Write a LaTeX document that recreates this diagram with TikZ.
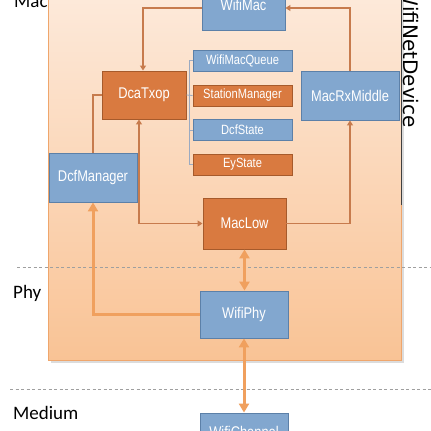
\documentclass[tikz,border=0pt]{standalone}
\usepackage{fontspec}
\setmainfont{Liberation Sans}
\newfontfamily\boxfont{Liberation Sans}[FakeStretch=0.83]
\newfontfamily\labfont{Carlito}
\newfontfamily\devfont{DejaVu Sans}
\usetikzlibrary{arrows.meta,calc}
\definecolor{bluefill}{HTML}{82A7CF}
\definecolor{blueline}{HTML}{5C80A8}
\definecolor{orfill}{HTML}{D97A40}
\definecolor{orline}{HTML}{A65A2B}
\definecolor{peachtop}{HTML}{FDEBDD}
\definecolor{peachbot}{HTML}{F9C395}
\definecolor{peachline}{HTML}{EFA66C}
\definecolor{brownarrow}{HTML}{C77B4D}
\definecolor{lightarrow}{HTML}{F0A05E}
\definecolor{treeline}{HTML}{9AAAC2}
\tikzset{
  bigbox/.style={draw, line width=0.9pt, text=white, inner sep=0pt,
    font=\boxfont\fontsize{15.5}{18}\selectfont},
  smallbox/.style={draw, line width=0.9pt, text=white, inner sep=0pt,
    minimum width=99pt, minimum height=21pt,
    font=\boxfont\fontsize{13.4}{16}\selectfont},
  bluebox/.style={fill=bluefill, draw=blueline},
  orbox/.style={fill=orfill, draw=orline},
  thinarrow/.style={draw=brownarrow, line width=1.8pt,
    -{Triangle[width=6pt,length=5pt]}},
  thinline/.style={draw=brownarrow, line width=1.8pt},
  thickarrow/.style={draw=lightarrow, line width=3pt,
    -{Triangle[width=10pt,length=9pt]}},
  treestyle/.style={draw=treeline, line width=0.8pt},
  layerline/.style={draw=gray!75, line width=0.8pt, dash pattern=on 3pt off 2.5pt},
  layerlabel/.style={font=\labfont\fontsize{19}{22}\selectfont, inner sep=0pt, anchor=base west}
}
\begin{document}
\begin{tikzpicture}[x=1pt,y=-1pt]
\useasboundingbox (0,0) rectangle (431,431);
\clip (0,0) rectangle (431,431);
\fill[white] (0,0) rectangle (431,431);

% WifiNetDevice background
\fill[black!30, opacity=0.45] (51,-20) rectangle (404,363);
\shade[top color=peachtop, bottom color=peachbot, draw=peachline, line width=0.8pt]
  (48,-20) rectangle (401,360);
\draw[black!75, line width=0.8pt] (401,-20) -- (401,205);
\node[font=\devfont\fontsize{20}{24}\selectfont, rotate=-90, anchor=base east, inner sep=0pt]
  (devlabel) at (403,128) {WifiNetDevice};

% layer lines and labels
\draw[layerline] (17,267) -- (431,267);
\draw[layerline] (10,389) -- (431,389);
\node[layerlabel] (maclabel) at (14,8) {Mac};
\node[layerlabel] (phylabel) at (13,298) {Phy};
\node[layerlabel] (medlabel) at (13,419) {Medium};

% boxes
\node[bigbox, bluebox, minimum width=83pt, minimum height=50pt] (wifimac) at (243.5,5) {WifiMac};
\node[bigbox, orbox, minimum width=84pt, minimum height=48pt] (dcatxop) at (144,95) {DcaTxop};
\node[smallbox, bluebox] (queue) at (242.5,60.5) {WifiMacQueue};
\node[smallbox, orbox] (station) at (242.5,95.5) {StationManager};
\node[smallbox, bluebox] (dcfstate) at (242.5,130) {DcfState};
\node[smallbox, orbox] (eystate) at (242.5,164.5) {EyState};
\node[bigbox, orbox, minimum width=83pt, minimum height=51pt] (maclow) at (244.5,223.5) {MacLow};
\node[bigbox, bluebox, minimum width=98pt, minimum height=49pt] (macrx) at (350,95.5) {MacRxMiddle};
\node[bigbox, bluebox, minimum width=88pt, minimum height=49pt] (dcfman) at (93,177.5) {DcfManager};
\node[bigbox, bluebox, minimum width=88pt, minimum height=47pt] (wifiphy) at (244,314.5) {WifiPhy};
\node[bigbox, bluebox, minimum width=88pt, minimum height=38pt] (channel) at (244,432) {WifiChannel};

% tree lines
\draw[treestyle] (dcatxop.east) -- (station.west);
\draw[treestyle] (queue.west) -- ++(-3,0) |- (eystate.west);
\draw[treestyle] (dcfstate.west) -- ++(-3,0);

% connectors
\draw[thinarrow] ($(wifimac.west)+(0,3)$) -| ($(dcatxop.north)+(-1,0)$);
\draw[thinarrow] (macrx.north) |- ($(wifimac.east)+(0,3)$);
\draw[thinarrow] (maclow.east) -| (macrx.south);
\draw[thinarrow, {Triangle[width=6pt,length=5pt]}-{Triangle[width=6pt,length=5pt]}]
  ($(dcatxop.south)+(-5,0)$) |- (maclow.west);
\draw[thinline] (dcfman.north) |- (dcatxop.west);
\draw[thickarrow] (wifiphy.west) -| (dcfman.south);
\draw[thickarrow, {Triangle[width=10pt,length=9pt]}-{Triangle[width=10pt,length=9pt]}]
  (maclow.south) -- (maclow.south |- wifiphy.north);
\draw[thickarrow, {Triangle[width=10pt,length=9pt]}-{Triangle[width=10pt,length=9pt]}]
  (wifiphy.south) -- (channel.north);
\end{tikzpicture}
\end{document}
